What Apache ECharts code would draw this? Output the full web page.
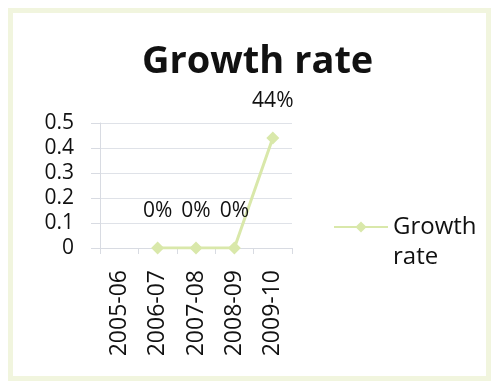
<!DOCTYPE html>
<html>
<head>
<meta charset="utf-8">
<script src="https://cdn.jsdelivr.net/npm/echarts@6/dist/echarts.min.js"></script>
<style>
  html, body { margin: 0; padding: 0; background: #ffffff; }
  #frame { position: absolute; left: 8px; top: 8px; width: 473px; height: 363px;
           border: 5px solid #f1f5de; background: #ffffff; }
  #chart { position: absolute; left: 0; top: 0; width: 495px; height: 388px; }
</style>
</head>
<body>
<div id="frame"></div>
<div id="chart"></div>
<script>
// Fiscal years on the category axis
const years = ['2005-06', '2006-07', '2007-08', '2008-09', '2009-10'];
// Growth rate per year (first year has no prior value)
const growth = [null, 0, 0, 0, 0.44];
// Value axis ticks
const yTicks = [0, 0.1, 0.2, 0.3, 0.4, 0.5];

const lineColor = '#d9e8aa';
const font = '"Open Sans", "Noto Sans", sans-serif';

const chart = echarts.init(document.getElementById('chart'), null, { renderer: 'canvas' });
chart.setOption({
  backgroundColor: 'transparent',
  animation: false,
  title: {
    text: 'Growth rate',
    left: 137,
    top: 38,
    textStyle: { fontFamily: font, fontWeight: 'bold', fontSize: 38, color: '#111111' }
  },
  legend: {
    left: 333,
    top: 182,
    padding: 0,
    itemWidth: 54,
    itemHeight: 14,
    itemGap: 0,
    // empty first line keeps "Growth" level with the legend marker
    formatter: () => ' \nGrowth\nrate',
    textStyle: { fontFamily: font, fontSize: 24, color: '#111111', lineHeight: 30 }
  },
  grid: { left: 100, right: 203, top: 123, bottom: 140 },
  xAxis: {
    type: 'category',
    data: years,
    boundaryGap: true,
    axisLine: { lineStyle: { color: '#d8dbe2', width: 1 } },
    axisTick: { show: true, length: 6, lineStyle: { color: '#d8dbe2' } },
    axisLabel: { rotate: 90, margin: 22, fontFamily: font, fontSize: 23, color: '#111111' }
  },
  yAxis: {
    type: 'value',
    min: yTicks[0],
    max: yTicks[yTicks.length - 1],
    interval: yTicks[1] - yTicks[0],
    axisLine: { show: true, lineStyle: { color: '#d8dbe2' } },
    axisTick: { show: true, length: 9, lineStyle: { color: '#d8dbe2' } },
    splitLine: { lineStyle: { color: '#dfe2e8' } },
    axisLabel: { margin: 26, fontFamily: font, fontSize: 21, color: '#111111',
                 formatter: v => String(+v.toFixed(1)) }
  },
  series: [{
    name: 'Growth rate',
    type: 'line',
    data: growth,
    connectNulls: false,
    symbol: 'diamond',
    symbolSize: 13,
    lineStyle: { color: lineColor, width: 3 },
    itemStyle: { color: lineColor },
    label: {
      show: true,
      position: 'top',
      distance: 20,
      fontFamily: font,
      fontSize: 21,
      color: '#111111',
      formatter: p => Math.round(p.value * 100) + '%'
    }
  }]
});
</script>
</body>
</html>
